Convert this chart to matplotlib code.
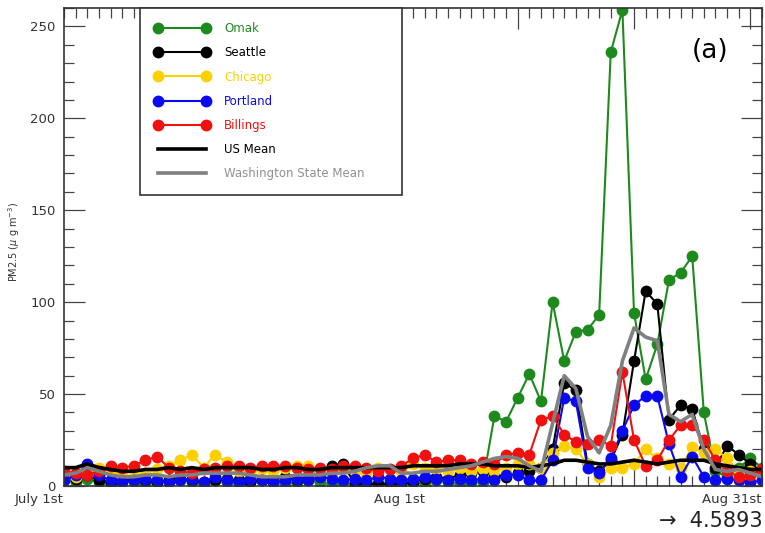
import numpy as np
import matplotlib
matplotlib.use("Agg")
import matplotlib.pyplot as plt
from matplotlib.ticker import MultipleLocator, NullFormatter

# Day of year (0-based): July 1 = 181 ... Aug 30 = 241
days = np.arange(181, 242)

omak = [3, 2, 4, 2, 1, 3, 2, 1, 2, 3, 4, 2, 1, 3, 2, 1, 2, 3, 2, 1,
        2, 3, 2, 1, 2, 1, 2, 1, 2, 3, 2, 1, 3, 2, 1, 2, 2,
        38, 35, 48, 61, 46, 100, 68, 84, 85, 93, 236, 259, 94, 58, 77,
        112, 116, 125, 40, 8, 5, 10, 15, 10]
seattle = [5, 4, 6, 3, 2, 3, 4, 3, 2, 3, 4, 3, 2, 3, 4, 3, 2, 3, 4, 5,
           3, 4, 8, 11, 12, 1, 1, 1, 1, 1, 2, 4, 5, 4, 6, 7, 8, 6, 5, 7,
           8, 10, 20, 56, 52, 12, 8, 14, 28, 68, 106, 99, 36, 44, 42, 20,
           10, 22, 17, 12, 8]
chicago = [6, 5, 7, 10, 8, 6, 5, 7, 9, 11, 14, 17, 10, 17, 13, 8, 7, 9, 8, 10,
           11, 11, 8, 7, 9, 8, 7, 10, 9, 8, 12, 10, 9, 8, 10, 8, 9, 8, 10, 12,
           12, 10, 18, 22, 20, 12, 5, 10, 10, 12, 20, 15, 12, 10, 21, 18, 20,
           15, 8, 8, 5]
portland = [3, 6, 12, 6, 3, 2, 3, 4, 3, 2, 3, 4, 2, 5, 3, 2, 4, 3, 2, 3,
            4, 3, 5, 4, 3, 4, 3, 5, 4, 3, 4, 5, 4, 3, 4, 3, 4, 3, 6, 6,
            3, 3, 14, 48, 46, 10, 7, 15, 30, 44, 49, 49, 23, 5, 16, 5, 3,
            4, 3, 2, 3]
billings = [8, 7, 6, 8, 11, 10, 11, 14, 16, 10, 8, 7, 9, 10, 11, 11, 10, 11, 11, 11,
            10, 9, 10, 9, 11, 11, 10, 8, 9, 11, 15, 17, 13, 14, 14, 12, 13, 12, 17, 18,
            17, 36, 38, 28, 24, 23, 25, 22, 62, 25, 11, 14, 25, 33, 33, 25, 14,
            8, 5, 6, 9]
us_mean = [10, 10, 12, 10, 9, 8, 8, 9, 9, 10, 9, 10, 9, 10, 10, 10, 10, 9, 9, 10,
           10, 9, 9, 10, 10, 10, 10, 10, 10, 10, 11, 11, 11, 11, 12, 12, 12, 11, 11, 11,
           10, 11, 12, 14, 14, 13, 12, 12, 13, 14, 13, 12, 13, 14, 14, 14, 12,
           11, 10, 9, 9]
wa_mean = [6, 7, 10, 8, 6, 5, 5, 6, 6, 5, 6, 6, 7, 7, 7, 7, 6, 5, 5, 5,
           6, 6, 6, 7, 7, 8, 10, 11, 11, 7, 7, 8, 8, 9, 10, 11, 13, 15, 16, 15,
           11, 8, 34, 60, 53, 27, 18, 33, 68, 86, 81, 79, 39, 35, 39, 20, 9,
           8, 9, 7, 5]

series = [
    ("Omak", omak, "#1e8a1e"),
    ("Seattle", seattle, "#000000"),
    ("Chicago", chicago, "#ffd000"),
    ("Portland", portland, "#0a0af0"),
    ("Billings", billings, "#f01010"),
]
x_label_pos = [181, 212, 241]
x_label_txt = ["July 1st", "Aug 1st", "Aug 31st"]

fig = plt.figure(figsize=(7.65, 5.33), dpi=100)
ax = fig.add_axes([64 / 765, 47 / 533, 698 / 765, 478 / 533])

for name, vals, col in series:
    ax.plot(days, vals, color=col, lw=1.5, marker="o", ms=7.5, mec=col, mfc=col,
            label=name, clip_on=True)
ax.plot(days, us_mean, color="black", lw=2.6, label="US Mean")
ax.plot(days, wa_mean, color="#808080", lw=2.6, label="Washington State Mean")

ax.set_xlim(181, 241)
ax.set_ylim(0, 260)

spine_col = "#333333"
for s in ax.spines.values():
    s.set_color(spine_col)
    s.set_linewidth(1.2)

ax.xaxis.set_major_locator(MultipleLocator(10))
ax.xaxis.set_minor_locator(MultipleLocator(1))
ax.xaxis.set_major_formatter(NullFormatter())
ax.yaxis.set_major_locator(MultipleLocator(50))
ax.yaxis.set_minor_locator(MultipleLocator(10))
ax.tick_params(which="both", direction="in", top=True, right=True,
               color="#444444", width=0.9, labelcolor="#333333", labelsize=9.5)
ax.tick_params(which="major", length=15)
ax.tick_params(which="minor", length=7.5)
ax.tick_params(axis="y", pad=6)

for xp, t in zip(x_label_pos, x_label_txt):
    ax.text(xp, -0.015, t, transform=ax.get_xaxis_transform(),
            ha="right", va="top", fontsize=9.5, color="#333333")

ax.set_ylabel(r"PM2.5 ($\mu$ g m$^{-3}$)", fontsize=7, color="#333333")
ax.yaxis.set_label_coords(-0.060, 0.51)

ax.text(0.925, 0.91, "(a)", transform=ax.transAxes, fontsize=19,
        ha="center", va="center", color="black")

leg = ax.legend(loc="upper left", bbox_to_anchor=(0.109, 0.619, 0.375, 0.381),
                mode="expand", borderaxespad=0, numpoints=2, fontsize=8.5,
                handlelength=4.7, handletextpad=1.2, labelspacing=0.95,
                borderpad=1.2, fancybox=False, framealpha=1,
                labelcolor=["#1e8a1e", "#000000", "#ffd000", "#0a0af0",
                            "#f01010", "#000000", "#909090"])
leg.get_frame().set_edgecolor(spine_col)
leg.get_frame().set_linewidth(1.2)

fig.text(0.997, 1 - 521 / 533, "\u2192  4.5893", ha="right", va="center",
         fontsize=15, color="#222222")

fig.savefig("out.png", dpi=100)
